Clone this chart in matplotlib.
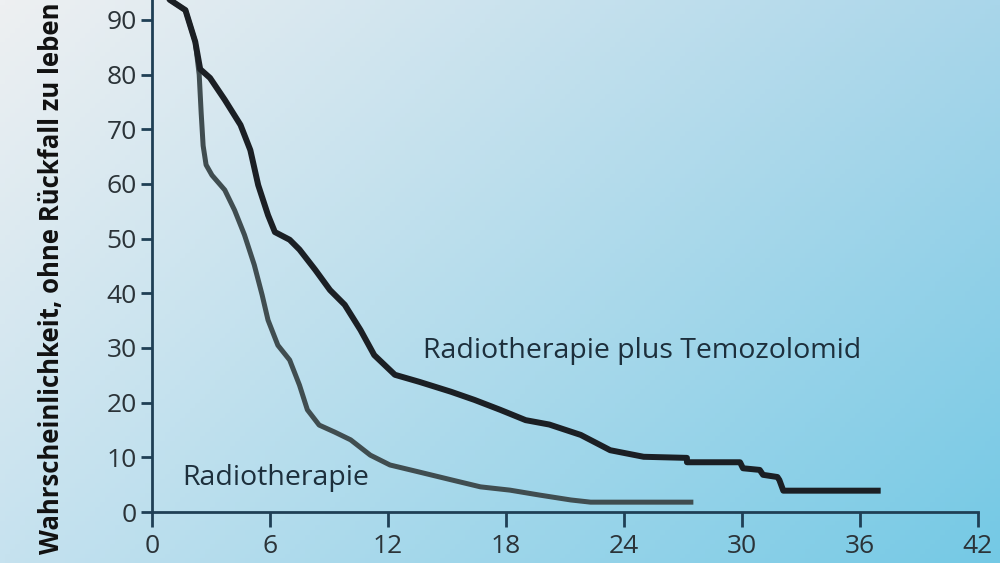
import numpy as np
import matplotlib.pyplot as plt
from matplotlib.colors import to_rgb

# Monate / Prozent
tmz_x = [0, 0.9, 1.7, 2.2, 2.45, 2.95, 3.7, 4.5, 5.0, 5.4, 5.9, 6.25, 7.0, 7.5,
         8.3, 9.05, 9.8, 10.6, 11.3, 12.35, 13.6, 15.2, 16.4, 17.7, 19.0, 20.2,
         21.8, 23.3, 25.0, 27.2, 27.2, 29.9, 30.05, 30.9, 31.07, 31.8, 31.9,
         32.1, 36.9]
tmz_y = [100, 93.7, 91.8, 86, 81, 79.4, 75.4, 70.8, 66.2, 59.8, 54.3, 51.2, 49.8,
         48, 44.3, 40.6, 37.9, 33.3, 28.7, 25.1, 23.8, 22, 20.5, 18.7, 16.8, 16.0,
         14.1, 11.3, 10.1, 9.9, 9.1, 9.1, 8.0, 7.7, 6.8, 6.4, 5.85, 3.9, 3.9]

rt_x = [0, 0.9, 1.7, 2.2, 2.4, 2.5, 2.6, 2.75, 3.05, 3.7, 4.2, 4.7, 5.2, 5.6, 5.9,
        6.4, 7.0, 7.5, 7.9, 8.5, 9.3, 10.1, 11.1, 12.1, 13.6, 15.2, 16.7, 18.2,
        19.7, 21.3, 22.3, 27.4]
rt_y = [100, 93.7, 91.8, 86, 80, 73, 67, 63.5, 61.6, 58.9, 55.2, 50.7, 45.2, 39.7,
        35.1, 30.5, 27.8, 23.2, 18.7, 15.9, 14.6, 13.2, 10.4, 8.6, 7.3, 5.9, 4.6,
        4.0, 3.1, 2.2, 1.8, 1.8]

x_ticks = [0, 6, 12, 18, 24, 30, 36, 42]
y_ticks = [0, 10, 20, 30, 40, 50, 60, 70, 80, 90]

plt.rcParams['font.family'] = ['Open Sans', 'DejaVu Sans']

fig = plt.figure(figsize=(10, 5.63), dpi=100)

# Hintergrund-Verlauf (oben links hell, unten rechts blau)
bg = fig.add_axes([0, 0, 1, 1], zorder=0)
tl, tr = np.array(to_rgb('#eef0f2')), np.array(to_rgb('#a9d6ea'))
bl, br = np.array(to_rgb('#c6e2ef')), np.array(to_rgb('#74c9e5'))
u = np.linspace(0, 1, 200)[None, :, None]
v = np.linspace(0, 1, 120)[:, None, None]
img = (1 - v) * ((1 - u) * tl + u * tr) + v * ((1 - u) * bl + u * br)
bg.imshow(img, aspect='auto', extent=[0, 1, 0, 1], origin='upper')
bg.axis('off')

# x=0 -> 152px, x=42 -> 978px ; y=0 -> 512px, y=90 -> 20px
ax = fig.add_axes([0.152, 1 - 512/563, 0.826, 546.7/563], zorder=1)
ax.patch.set_alpha(0)
ax.set_xlim(0, 42)
ax.set_ylim(0, 100)

ax.plot(rt_x, rt_y, color='#404d50', lw=3.6, solid_joinstyle='round', zorder=3)
ax.plot(tmz_x, tmz_y, color='#1b1f24', lw=4.3, solid_joinstyle='round', zorder=4)

spine_c = '#1f3f55'
for s in ['top', 'right']:
    ax.spines[s].set_visible(False)
for s in ['left', 'bottom']:
    ax.spines[s].set_color(spine_c)
    ax.spines[s].set_linewidth(2)

ax.set_xticks(x_ticks)
ax.set_yticks(y_ticks)
ax.tick_params(axis='both', colors=spine_c, width=2, length=8,
               labelsize=19, labelcolor='#2b3338')
ax.tick_params(axis='x', pad=5, length=11)
ax.tick_params(axis='y', pad=3)

ax.text(13.8, 29.5, 'Radiotherapie plus Temozolomid', fontsize=20.5,
        color='#1d2f3c', va='center', ha='left')
ax.text(1.55, 6.2, 'Radiotherapie', fontsize=20.5,
        color='#1d2f3c', va='center', ha='left')

fig.text(0.052, 0.505, 'Wahrscheinlichkeit, ohne Rückfall zu leben',
         rotation=90, fontsize=18.5, fontweight='bold', color='#111111',
         ha='center', va='center')

plt.savefig('out.png', dpi=100)
